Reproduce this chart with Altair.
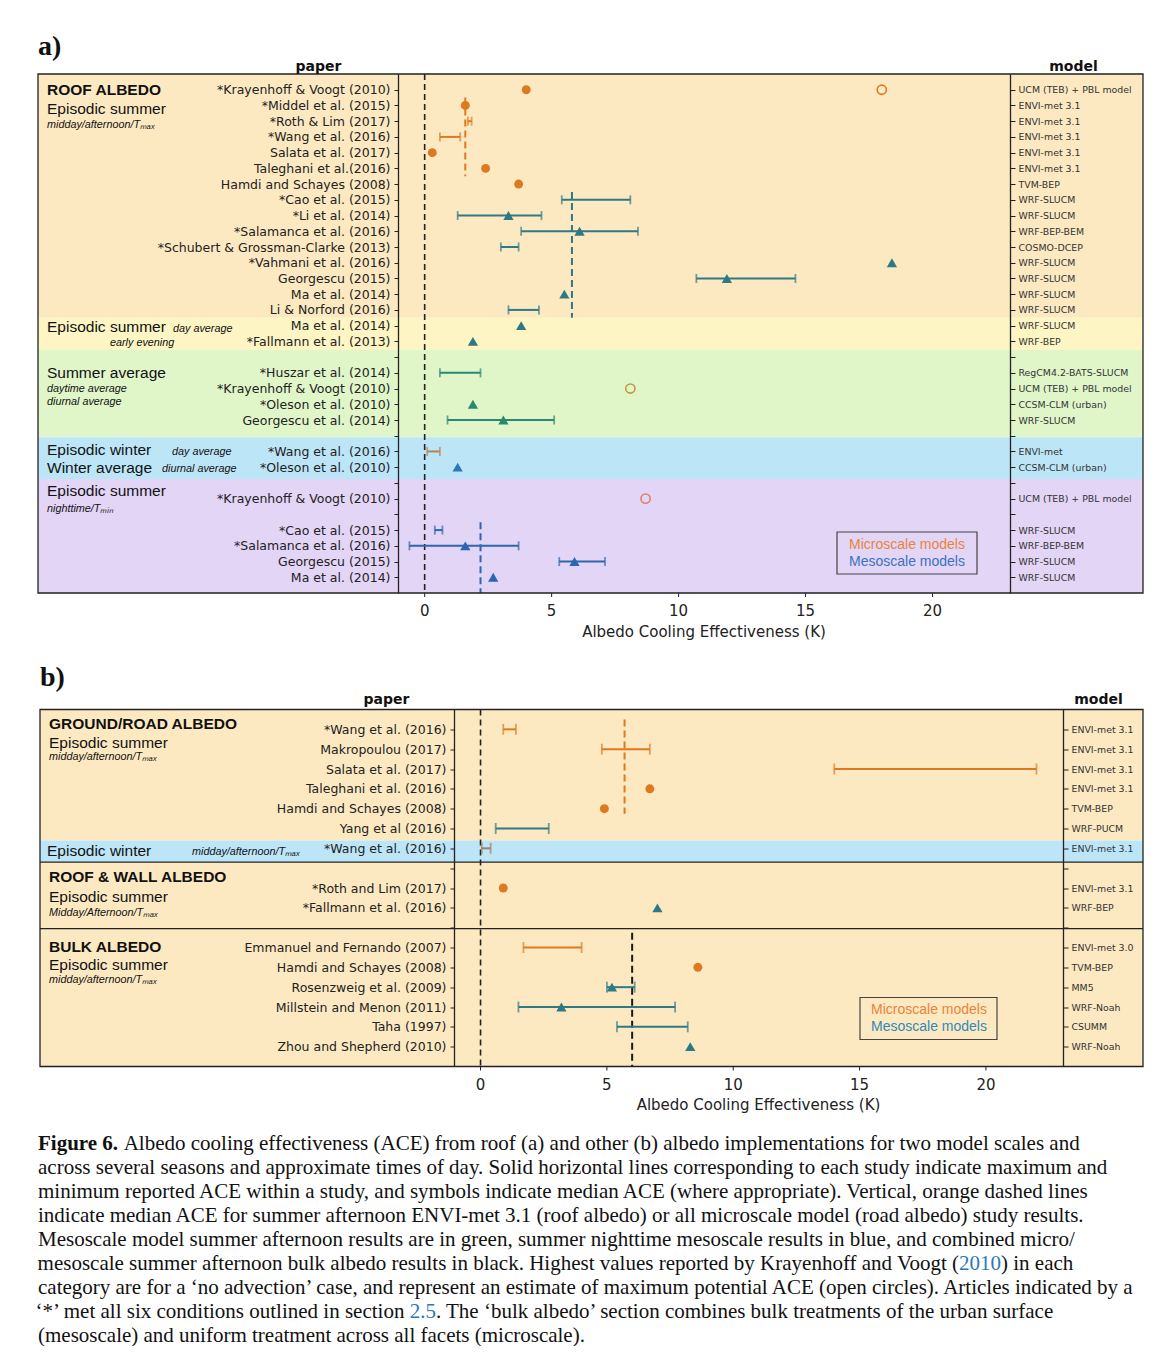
import json
import pandas as pd
import altair as alt

# ------------------------------------------------------------------
# Shared x axis
# ------------------------------------------------------------------
X_DOMAIN = [-1.05, 23.05]
X_TICKS = [0, 5, 10, 15, 20]
X_TITLE = "Albedo Cooling Effectiveness (K)"

# ------------------------------------------------------------------
# Panel a: roof albedo
# ------------------------------------------------------------------
A_PAPER = [
    "*Krayenhoff & Voogt (2010)", "*Middel et al. (2015)", "*Roth & Lim (2017)",
    "*Wang et al. (2016)", "Salata et al. (2017)", "Taleghani et al.(2016)",
    "Hamdi and Schayes (2008)", "*Cao et al. (2015)", "*Li et al. (2014)",
    "*Salamanca et al. (2016)", "*Schubert & Grossman-Clarke (2013)",
    "*Vahmani et al. (2016)", "Georgescu (2015)", "Ma et al. (2014)",
    "Li & Norford (2016)", "Ma et al. (2014)", "*Fallmann et al. (2013)", "",
    "*Huszar et al. (2014)", "*Krayenhoff & Voogt (2010)", "*Oleson et al. (2010)",
    "Georgescu et al. (2014)", "", "*Wang et al. (2016)", "*Oleson et al. (2010)", "",
    "*Krayenhoff & Voogt (2010)", "", "*Cao et al. (2015)", "*Salamanca et al. (2016)",
    "Georgescu (2015)", "Ma et al. (2014)",
]
A_MODEL = [
    "UCM (TEB) + PBL model", "ENVI-met 3.1", "ENVI-met 3.1", "ENVI-met 3.1",
    "ENVI-met 3.1", "ENVI-met 3.1", "TVM-BEP", "WRF-SLUCM", "WRF-SLUCM",
    "WRF-BEP-BEM", "COSMO-DCEP", "WRF-SLUCM", "WRF-SLUCM", "WRF-SLUCM",
    "WRF-SLUCM", "WRF-SLUCM", "WRF-BEP", "",
    "RegCM4.2-BATS-SLUCM", "UCM (TEB) + PBL model", "CCSM-CLM (urban)", "WRF-SLUCM", "",
    "ENVI-met", "CCSM-CLM (urban)", "", "UCM (TEB) + PBL model", "",
    "WRF-SLUCM", "WRF-BEP-BEM", "WRF-SLUCM", "WRF-SLUCM",
]
A_GROUP = (["micro"] * 7 + ["meso"] * 10 + [""]
           + ["meso_avg", "micro_avg", "meso_avg", "meso_avg", ""]
           + ["micro_winter", "meso_winter", ""]
           + ["micro_night", ""] + ["meso_night"] * 4)
A_LOW = [None, None, 1.7, 0.6, None, None, None, 5.4, 1.3, 3.8, 3.0, None, 10.7, None,
         3.3, None, None, None, 0.6, None, None, 0.9, None, 0.1, None, None, None, None,
         0.4, -0.6, 5.3, None]
A_HIGH = [None, None, 1.85, 1.4, None, None, None, 8.1, 4.6, 8.4, 3.7, None, 14.6, None,
          4.5, None, None, None, 2.2, None, None, 5.1, None, 0.6, None, None, None, None,
          0.7, 3.7, 7.1, None]
A_MEDIAN = [4.0, 1.6, None, None, 0.3, 2.4, 3.7, None, 3.3, 6.1, None, 18.4, 11.9, 5.5,
            None, 3.8, 1.9, None, None, None, 1.9, 3.1, None, None, 1.3, None, None, None,
            None, 1.6, 5.9, 2.7]
A_NOADV = [18.0] + [None] * 18 + [8.1] + [None] * 6 + [8.7] + [None] * 5
A_MEDIAN_LINES = {"ace": [1.6, 5.8, 2.2], "start": [0.5, 6.5, 27.5],
                  "end": [5.5, 14.5, 32.0], "group": ["micro", "meso", "meso_night"]}
A_BANDS = {"start": [-1, 14.5, 16.55, 22.1, 24.75], "end": [14.5, 16.55, 22.1, 24.75, 32],
           "season": ["summer", "summer_other", "summer_avg", "winter", "night"]}
A_SECTIONS = [
    ("ROOF ALBEDO", 0.0, 9, "bold"),
    ("Episodic summer", 1.23, 9, "plain"),
    ("midday/afternoon/T\u2098\u2090\u2093", 2.24, 9, "italic"),
    ("Episodic summer", 15.09, 9, "plain"),
    ("day average", 15.2, 135, "italic"),
    ("early evening", 16.1, 72, "italic"),
    ("Summer average", 18.0, 9, "plain"),
    ("daytime average", 19.03, 9, "italic"),
    ("diurnal average", 19.85, 9, "italic"),
    ("Episodic winter", 22.9, 9, "plain"),
    ("day average", 23.03, 134, "italic"),
    ("Winter average", 24.05, 9, "plain"),
    ("diurnal average", 24.1, 124, "italic"),
    ("Episodic summer", 25.5, 9, "plain"),
    ("nighttime/T\u2098\u1d62\u2099", 26.66, 9, "italic"),
]

# ------------------------------------------------------------------
# Panel b: ground/road, roof & wall, bulk albedo
# ------------------------------------------------------------------
B_PAPER = [
    "*Wang et al. (2016)", "Makropoulou (2017)", "Salata et al. (2017)",
    "Taleghani et al. (2016)", "Hamdi and Schayes (2008)", "Yang et al (2016)",
    "*Wang et al. (2016)", "", "*Roth and Lim (2017)", "*Fallmann et al. (2016)", "",
    "Emmanuel and Fernando (2007)", "Hamdi and Schayes (2008)", "Rosenzweig et al. (2009)",
    "Millstein and Menon (2011)", "Taha (1997)", "Zhou and Shepherd (2010)",
]
B_MODEL = [
    "ENVI-met 3.1", "ENVI-met 3.1", "ENVI-met 3.1", "ENVI-met 3.1", "TVM-BEP", "WRF-PUCM",
    "ENVI-met 3.1", "", "ENVI-met 3.1", "WRF-BEP", "", "ENVI-met 3.0", "TVM-BEP", "MM5",
    "WRF-Noah", "CSUMM", "WRF-Noah",
]
B_GROUP = (["micro"] * 5 + ["meso", "micro_winter_road", "", "micro", "meso", "",
                            "micro", "micro", "meso", "meso", "meso", "meso"])
B_LOW = [0.9, 4.8, 14.0, None, None, 0.6, 0.05, None, None, None, None, 1.7, None, 5.0,
         1.5, 5.4, None]
B_HIGH = [1.4, 6.7, 22.0, None, None, 2.7, 0.4, None, None, None, None, 4.0, None, 6.1,
          7.7, 8.2, None]
B_MEDIAN = [None, None, None, 6.7, 4.9, None, None, None, 0.9, 7.0, None, None, 8.6, 5.2,
            3.2, None, 8.3]
B_NOADV = [None] * 17
B_MEDIAN_LINES = {"ace": [5.7, 6.0], "start": [-0.5, 10.25], "end": [4.25, 17.0],
                  "group": ["micro", "bulk"]}
B_BANDS = {"start": [-1, 5.6, 6.7], "end": [5.6, 6.7, 17],
           "season": ["summer", "winter", "summer"]}
B_SEPARATORS = [6.7, 10.05]
B_SECTIONS = [
    ("GROUND/ROAD ALBEDO", -0.29, 9, "bold"),
    ("Episodic summer", 0.67, 9, "plain"),
    ("midday/afternoon/T\u2098\u2090\u2093", 1.42, 9, "italic"),
    ("Episodic winter", 6.11, 7, "plain"),
    ("midday/afternoon/T\u2098\u2090\u2093", 6.21, 152, "italic"),
    ("ROOF & WALL ALBEDO", 7.47, 9, "bold"),
    ("Episodic summer", 8.43, 9, "plain"),
    ("Midday/Afternoon/T\u2098\u2090\u2093", 9.24, 9, "italic"),
    ("BULK ALBEDO", 10.95, 9, "bold"),
    ("Episodic summer", 11.9, 9, "plain"),
    ("midday/afternoon/T\u2098\u2090\u2093", 12.65, 9, "italic"),
]

LEGEND_LABELS = ["Microscale models", "Mesoscale models"]

CAPTION = [
    [("Figure 6.", "bold"), (" Albedo cooling effectiveness (ACE) from roof (a) and other (b) albedo implementations for two model scales and", "plain")],
    [("across several seasons and approximate times of day. Solid horizontal lines corresponding to each study indicate maximum and", "plain")],
    [("minimum reported ACE within a study, and symbols indicate median ACE (where appropriate). Vertical, orange dashed lines", "plain")],
    [("indicate median ACE for summer afternoon ENVI-met 3.1 (roof albedo) or all microscale model (road albedo) study results.", "plain")],
    [("Mesoscale model summer afternoon results are in green, summer nighttime mesoscale results in blue, and combined micro/", "plain")],
    [("mesoscale summer afternoon bulk albedo results in black. Highest values reported by Krayenhoff and Voogt (", "plain"), ("2010", "link"), (") in each", "plain")],
    [("category are for a \u2018no advection\u2019 case, and represent an estimate of maximum potential ACE (open circles). Articles indicated by a", "plain")],
    [("\u2018*\u2019 met all six conditions outlined in section ", "plain"), ("2.5", "link"), (". The \u2018bulk albedo\u2019 section combines bulk treatments of the urban surface", "plain")],
    [("(mesoscale) and uniform treatment across all facets (microscale).", "plain")],
]

# ------------------------------------------------------------------
# Styling
# ------------------------------------------------------------------
GROUP_COLOR = {
    "micro": "#dd7a20",
    "meso": "#2d7a86",
    "meso_avg": "#2a8870",
    "micro_avg": "#c9953e",
    "micro_winter": "#bb8448",
    "meso_winter": "#2f76b9",
    "micro_night": "#d9826e",
    "meso_night": "#2d66b0",
    "micro_winter_road": "#a27f68",
    "bulk": "#1a1a1a",
}
BAND_COLOR = {
    "summer": "#fde9c1",
    "summer_other": "#fdf5c3",
    "summer_avg": "#e0f6c9",
    "winter": "#bde5f8",
    "night": "#e3d5f6",
}
SANS = "DejaVu Sans"
ARIAL = "Liberation Sans"
SERIF = "Liberation Serif"
INK = "#222222"

SECTION_STYLE = {
    "bold": dict(fontSize=15.5, fontWeight="bold", fontStyle="normal"),
    "plain": dict(fontSize=15.5, fontWeight="normal", fontStyle="normal"),
    "italic": dict(fontSize=10.8, fontWeight="normal", fontStyle="italic"),
}

# Times New Roman advance widths (1/1000 em), used to chain caption fragments
TNR = {' ': 250, '(': 333, ')': 333, '*': 500, ',': 250, '-': 333, '.': 250, '/': 278,
       ':': 278, ';': 278, '\u2018': 333, '\u2019': 333, 'A': 722, 'B': 667, 'C': 667,
       'D': 722, 'E': 611, 'F': 556, 'G': 722, 'H': 722, 'I': 333, 'K': 722, 'L': 611,
       'M': 889, 'N': 722, 'O': 722, 'P': 556, 'R': 667, 'S': 556, 'T': 611, 'U': 722,
       'V': 722, 'W': 944, 'a': 444, 'b': 500, 'c': 444, 'd': 500, 'e': 444, 'f': 333,
       'g': 500, 'h': 500, 'i': 278, 'j': 278, 'k': 500, 'l': 278, 'm': 778, 'n': 500,
       'o': 500, 'p': 500, 'q': 500, 'r': 333, 's': 389, 't': 278, 'u': 500, 'v': 500,
       'w': 722, 'x': 500, 'y': 500, 'z': 444}
TNR_BOLD = {'F': 611, 'i': 278, 'g': 500, 'u': 556, 'r': 444, 'e': 444, ' ': 250, '.': 250}
CAPTION_SIZE = 21
CAPTION_STEP = 24
CAPTION_KERN = 4  # width lost to kerning in a long fragment before a link
CAPTION_COLOR = {"plain": "#111111", "bold": "#111111", "link": "#2a78b6"}

ONE = pd.DataFrame({"k": [0]})


def text_width(s, size, bold=False):
    table = TNR_BOLD if bold else TNR
    return sum(table.get(ch, 500) for ch in s) * size / 1000.0


def marker_shape(group):
    return "circle" if group.startswith("micro") else "triangle-up"


def caption_layers(x0, y0):
    """One text mark per caption fragment; fragments before a link are
    right-aligned on it so the link sits snugly inside its sentence."""
    layers = []
    space = text_width(" ", CAPTION_SIZE)
    for i, line in enumerate(CAPTION):
        x = x0
        kinds = [k for _, k in line]
        for j, (text, kind) in enumerate(line):
            w_full = text_width(text, CAPTION_SIZE, bold=(kind == "bold"))
            before_link = kind == "plain" and "link" in kinds[j + 1:]
            lead = space if text.startswith(" ") else 0.0
            trail = space if text.endswith(" ") else 0.0
            shown = text.strip(" ")
            if before_link:
                w_full -= CAPTION_KERN
                align, xpos = "right", x + w_full - trail
            else:
                align, xpos = "left", x + lead
            layers.append(alt.Chart(ONE).mark_text(
                align=align, baseline="middle", font=SERIF, fontSize=CAPTION_SIZE,
                fontWeight="bold" if kind == "bold" else "normal",
                color=CAPTION_COLOR[kind],
            ).encode(x=alt.value(round(xpos, 1)), y=alt.value(y0 + i * CAPTION_STEP),
                     text=alt.value(shown)))
            x += w_full
    return layers


def build_panel(paper, model, group, low, high, median, noadv, med_lines, bands,
                separators, sections, legend, tag, lay, extra=()):
    W, H, L, R, X0 = lay["W"], lay["H"], lay["L"], lay["R"], lay["x0"]
    n = len(paper)
    ys = alt.Scale(domain=[-1, n], reverse=True, nice=False, zero=False)
    xs = alt.Scale(domain=X_DOMAIN, range=[X0, W], nice=False, zero=False)

    rows = pd.DataFrame({"row": list(range(n)), "group": group, "low": low,
                         "high": high, "median": median, "noadv": noadv})
    rows["color"] = rows["group"].map(GROUP_COLOR)

    left_axis = alt.Axis(
        orient="left", values=list(range(n)), zindex=2, offset=-X0,
        labelExpr=json.dumps(paper, ensure_ascii=False) + "[datum.value]",
        title="paper", titleAngle=0, titleAlign="center", titleBaseline="middle",
        titleX=lay["paper_x"], titleY=lay["title_y"],
        titleFont=SANS, titleFontSize=14, titleFontWeight="bold", titleColor="#111111",
        grid=False, domain=True, domainColor=INK, domainWidth=1.3,
        tickColor=INK, tickSize=4, tickWidth=1,
        labelFont=SANS, labelFontSize=12.5, labelColor=INK, labelPadding=4,
        labelOverlap=False, labelFlush=False, labelLimit=600,
    )
    right_axis = alt.Axis(
        orient="right", values=list(range(n)), zindex=2,
        labelExpr=json.dumps(model, ensure_ascii=False) + "[datum.value]",
        title="model", titleAngle=0, titleAlign="center", titleBaseline="middle",
        titleX=lay["model_x"], titleY=lay["title_y"],
        titleFont=SANS, titleFontSize=14, titleFontWeight="bold", titleColor="#111111",
        grid=False, domain=True, domainColor=INK, domainWidth=1.3,
        tickColor=INK, tickSize=5, tickWidth=1,
        labelFont=SANS, labelFontSize=9.4, labelColor="#333333", labelPadding=3,
        labelOverlap=False, labelFlush=False, labelLimit=600,
    )

    layers = []

    # coloured season bands across the whole frame
    bdf = pd.DataFrame(bands)
    bdf["fill"] = bdf["season"].map(BAND_COLOR)
    layers.append(alt.Chart(bdf).mark_rect().encode(
        x=alt.value(-L), x2=alt.value(W + R),
        y=alt.Y("start:Q", scale=ys, axis=left_axis), y2="end:Q",
        color=alt.Color("fill:N", scale=None),
    ))

    # horizontal section separators
    if separators:
        layers.append(alt.Chart(pd.DataFrame({"row": separators})).mark_rule(
            color=INK, strokeWidth=1.3).encode(
            x=alt.value(-L), x2=alt.value(W + R),
            y=alt.Y("row:Q", scale=ys, axis=None),
        ))

    # section headings on the left
    for text, row, offset, style in sections:
        layers.append(alt.Chart(pd.DataFrame({"row": [row]})).mark_text(
            align="left", baseline="middle", font=ARIAL, color="#111111",
            **SECTION_STYLE[style]).encode(
            x=alt.value(offset - L),
            y=alt.Y("row:Q", scale=ys, axis=None),
            text=alt.value(text),
        ))

    # zero reference line
    layers.append(alt.Chart(pd.DataFrame({"ace": [0.0]})).mark_rule(
        color=INK, strokeWidth=1.6, strokeDash=[6, 4]).encode(
        x=alt.X("ace:Q", scale=xs, axis=None)))

    # median ACE lines
    mdf = pd.DataFrame(med_lines)
    mdf["color"] = mdf["group"].map(GROUP_COLOR)
    layers.append(alt.Chart(mdf).mark_rule(strokeWidth=2, strokeDash=[7, 4]).encode(
        x=alt.X("ace:Q", scale=xs, axis=None),
        y=alt.Y("start:Q", scale=ys, axis=None), y2="end:Q",
        color=alt.Color("color:N", scale=None),
    ))

    # min-max ranges with end caps (this layer also carries the model axis)
    eb = rows[rows["low"].notna()]
    layers.append(alt.Chart(eb).mark_rule(strokeWidth=2).encode(
        x=alt.X("low:Q", scale=xs, axis=None), x2="high:Q",
        y=alt.Y("row:Q", scale=ys, axis=right_axis),
        color=alt.Color("color:N", scale=None),
    ))
    caps = eb.melt(id_vars=["row", "color"], value_vars=["low", "high"], value_name="end")
    layers.append(alt.Chart(caps).mark_tick(orient="vertical", size=lay["cap"],
                                            thickness=1.8).encode(
        x=alt.X("end:Q", scale=xs, axis=None),
        y=alt.Y("row:Q", scale=ys, axis=None),
        color=alt.Color("color:N", scale=None),
    ))

    # medians
    pts = rows[rows["median"].notna()].copy()
    pts["shape"] = pts["group"].map(marker_shape)
    pts["size"] = pts["shape"].map({"circle": 80, "triangle-up": 105})
    layers.append(alt.Chart(pts).mark_point(filled=True, opacity=1, strokeWidth=0).encode(
        x=alt.X("median:Q", scale=xs, axis=None),
        y=alt.Y("row:Q", scale=ys, axis=None),
        shape=alt.Shape("shape:N", scale=None),
        size=alt.Size("size:Q", scale=None),
        color=alt.Color("color:N", scale=None),
    ))

    # "no advection" maxima (open circles)
    op = rows[rows["noadv"].notna()]
    if len(op):
        layers.append(alt.Chart(op).mark_point(filled=False, size=85, strokeWidth=1.6,
                                               opacity=1).encode(
            x=alt.X("noadv:Q", scale=xs, axis=None),
            y=alt.Y("row:Q", scale=ys, axis=None),
            color=alt.Color("color:N", scale=None),
        ))

    # x axis: ticks, tick labels and title under the frame
    tdf = pd.DataFrame({"tick": X_TICKS})
    layers.append(alt.Chart(tdf).mark_rule(color=INK, strokeWidth=1).encode(
        x=alt.X("tick:Q", scale=xs, axis=None), y=alt.value(H), y2=alt.value(H + 4)))
    layers.append(alt.Chart(tdf).mark_text(font=SANS, fontSize=15, color=INK,
                                           align="center", baseline="middle").encode(
        x=alt.X("tick:Q", scale=xs, axis=None), y=alt.value(H + 18),
        text=alt.Text("tick:Q")))
    layers.append(alt.Chart(ONE).mark_text(font=SANS, fontSize=15, color=INK,
                                           align="center", baseline="middle").encode(
        x=alt.value((X0 + W) / 2), y=alt.value(H + 38.5), text=alt.value(X_TITLE)))

    # legend box
    (bx0, bx1, by0, by1), centers, colors = legend
    layers.append(alt.Chart(ONE).mark_rect(fillOpacity=0, stroke="#444444",
                                           strokeWidth=1.2).encode(
        x=alt.value(bx0), x2=alt.value(bx1), y=alt.value(by0), y2=alt.value(by1)))
    for label, (cx, cy), col in zip(LEGEND_LABELS, centers, colors):
        layers.append(alt.Chart(ONE).mark_text(font=ARIAL, fontSize=14, align="center",
                                               baseline="middle", color=col).encode(
            x=alt.value(cx), y=alt.value(cy), text=alt.value(label)))

    # outer frame and panel tag
    layers.append(alt.Chart(ONE).mark_rect(fillOpacity=0, stroke=INK,
                                           strokeWidth=1.3).encode(
        x=alt.value(-L), x2=alt.value(W + R), y=alt.value(0), y2=alt.value(H)))
    layers.append(alt.Chart(ONE).mark_text(align="left", baseline="middle", font=SERIF,
                                           fontSize=28, fontWeight="bold",
                                           color="#111111").encode(
        x=alt.value(-L), y=alt.value(lay["tag_y"]), text=alt.value(tag)))

    layers.extend(extra)
    return alt.layer(*layers).properties(width=W, height=H).resolve_axis(y="independent")


# both panels share the same plot origin; panel b's data area starts 56 px in
LAY_A = dict(W=612, H=519, L=360, R=133, x0=0, tag_y=-27, paper_x=-80, model_x=63,
             title_y=-8, cap=9)
LAY_B = dict(W=665, H=357, L=358, R=80, x0=56, tag_y=-32, paper_x=-68, model_x=35,
             title_y=-10, cap=11)

panel_a = build_panel(
    A_PAPER, A_MODEL, A_GROUP, A_LOW, A_HIGH, A_MEDIAN, A_NOADV, A_MEDIAN_LINES,
    A_BANDS, [], A_SECTIONS,
    ((439, 579, 458, 500), [(509, 471), (509, 488)], ["#e8843c", "#3a72c2"]),
    "a)", LAY_A)

panel_b = build_panel(
    B_PAPER, B_MODEL, B_GROUP, B_LOW, B_HIGH, B_MEDIAN, B_NOADV, B_MEDIAN_LINES,
    B_BANDS, B_SEPARATORS, B_SECTIONS,
    ((462, 599, 288, 330), [(531, 300), (531, 317)], ["#e8843c", "#2f8ab8"]),
    "b)", LAY_B, extra=caption_layers(-360, 434))

chart = alt.vconcat(panel_a, panel_b, spacing=22.5).properties(
    padding={"left": 33, "top": 32, "right": 0, "bottom": 0}
).configure_view(stroke="transparent")

chart.save("out.html", embed_options={"renderer": "svg", "actions": False})
